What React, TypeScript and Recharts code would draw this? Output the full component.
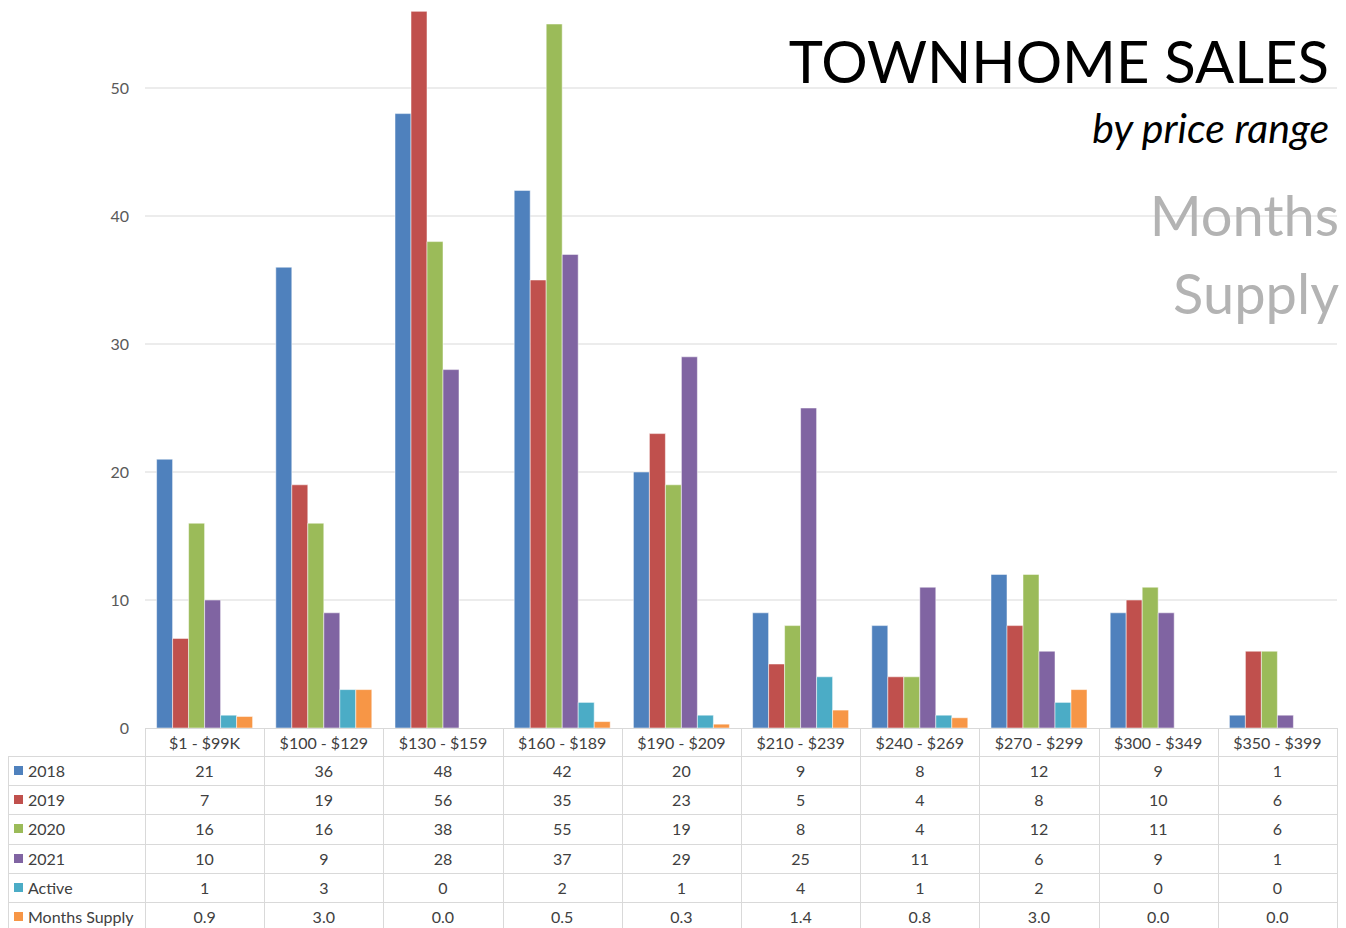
import { BarChart, Bar, XAxis, YAxis, CartesianGrid } from "recharts";

const categories = [
  "$1 - $99K",
  "$100 - $129",
  "$130 - $159",
  "$160 - $189",
  "$190 - $209",
  "$210 - $239",
  "$240 - $269",
  "$270 - $299",
  "$300 - $349",
  "$350 - $399",
];

const sales2018 = [21, 36, 48, 42, 20, 9, 8, 12, 9, 1];
const sales2019 = [7, 19, 56, 35, 23, 5, 4, 8, 10, 6];
const sales2020 = [16, 16, 38, 55, 19, 8, 4, 12, 11, 6];
const sales2021 = [10, 9, 28, 37, 29, 25, 11, 6, 9, 1];
const active = [1, 3, 0, 2, 1, 4, 1, 2, 0, 0];
const monthsSupply = [0.9, 3.0, 0.0, 0.5, 0.3, 1.4, 0.8, 3.0, 0.0, 0.0];

const yTicks = [0, 10, 20, 30, 40, 50];
const gridValues = [10, 20, 30, 40, 50];

const series = [
  { key: "y2018", name: "2018", values: sales2018, color: "#4F81BD", fmt: (v: number) => String(v) },
  { key: "y2019", name: "2019", values: sales2019, color: "#C0504D", fmt: (v: number) => String(v) },
  { key: "y2020", name: "2020", values: sales2020, color: "#9BBB59", fmt: (v: number) => String(v) },
  { key: "y2021", name: "2021", values: sales2021, color: "#8064A2", fmt: (v: number) => String(v) },
  { key: "active", name: "Active", values: active, color: "#4BACC6", fmt: (v: number) => String(v) },
  { key: "supply", name: "Months Supply", values: monthsSupply, color: "#F79646", fmt: (v: number) => v.toFixed(1) },
];

const data = categories.map((name, i) => {
  const row: Record<string, string | number> = { name };
  series.forEach((s) => (row[s.key] = s.values[i]));
  return row;
});

const FONT = "Lato, 'Open Sans', sans-serif";
const PLOT_LEFT = 145;
const PLOT_RIGHT = 1337;
const COL_W = (PLOT_RIGHT - PLOT_LEFT) / categories.length;
const TABLE_TOP = 728;
const HEAD_H = 28;
const ROW_H = 29.2;
const LINE = "#d9d9d9";

const YTick = (props: any) => {
  const { y, payload } = props;
  return (
    <text x={129} y={y} dy={6} textAnchor="end" fontSize={16} fill="#595959" fontFamily={FONT}>
      {payload.value}
    </text>
  );
};

const XTick = (props: any) => {
  const { x, y, payload } = props;
  return (
    <text x={x} y={y} dy={13} textAnchor="middle" fontSize={16} fill="#404040" fontFamily={FONT}>
      {payload.value}
    </text>
  );
};

function DataTable() {
  const lines = [];
  lines.push(
    <div key="ht" style={{ position: "absolute", left: PLOT_LEFT, top: TABLE_TOP, width: PLOT_RIGHT - PLOT_LEFT + 1, height: 1, background: LINE }} />
  );
  for (let r = 0; r < series.length; r++) {
    const top = TABLE_TOP + HEAD_H + r * ROW_H;
    lines.push(
      <div key={"h" + r} style={{ position: "absolute", left: 8, top, width: PLOT_RIGHT - 8 + 1, height: 1, background: LINE }} />
    );
  }
  lines.push(
    <div key="vl" style={{ position: "absolute", left: 8, top: TABLE_TOP + HEAD_H, width: 1, height: 928 - TABLE_TOP - HEAD_H, background: LINE }} />
  );
  for (let c = 0; c <= categories.length; c++) {
    lines.push(
      <div key={"v" + c} style={{ position: "absolute", left: PLOT_LEFT + c * COL_W, top: TABLE_TOP, width: 1, height: 928 - TABLE_TOP, background: LINE }} />
    );
  }
  const cells = [];
  series.forEach((s, r) => {
    const top = TABLE_TOP + HEAD_H + r * ROW_H;
    cells.push(
      <div key={"l" + r} style={{ position: "absolute", left: 14, top, height: ROW_H, display: "flex", alignItems: "center", fontSize: 16, color: "#404040" }}>
        <span style={{ display: "inline-block", width: 9, height: 9, background: s.color, marginRight: 5 }} />
        {s.name}
      </div>
    );
    s.values.forEach((v, c) => {
      cells.push(
        <div key={"c" + r + "-" + c} style={{ position: "absolute", left: PLOT_LEFT + c * COL_W, top, width: COL_W, height: ROW_H, display: "flex", alignItems: "center", justifyContent: "center", fontSize: 16, color: "#404040" }}>
          {s.fmt(v)}
        </div>
      );
    });
  });
  return (
    <div style={{ position: "absolute", left: 0, top: 0, width: 1346, height: 928, pointerEvents: "none", fontFamily: FONT }}>
      {lines}
      {cells}
    </div>
  );
}

export default function App() {
  return (
    <div style={{ position: "fixed", left: 0, top: 0, width: 1346, height: 928, background: "#fff", overflow: "hidden", fontFamily: FONT }}>
      <BarChart
        width={1346}
        height={TABLE_TOP + HEAD_H}
        data={data}
        margin={{ top: 11.2, right: 1346 - PLOT_RIGHT, bottom: 0, left: 0 }}
        barGap={0}
        barCategoryGap={11.6}
      >
        <CartesianGrid vertical={false} stroke={LINE} strokeWidth={1} horizontalValues={gridValues} />
        <YAxis
          width={PLOT_LEFT}
          domain={[0, 56]}
          ticks={yTicks}
          axisLine={false}
          tickLine={false}
          tick={<YTick />}
          allowDataOverflow
        />
        <XAxis dataKey="name" height={HEAD_H} axisLine={false} tickLine={false} tick={<XTick />} interval={0} />
        {series.map((s) => (
          <Bar key={s.key} dataKey={s.key} name={s.name} fill={s.color} stroke="#ffffff" strokeOpacity={0.5} strokeWidth={1} isAnimationActive={false} />
        ))}
      </BarChart>
      <DataTable />
      <div style={{ position: "absolute", right: 1346 - 1329, top: 32, fontSize: 58, color: "#000", lineHeight: 1, fontFamily: FONT }}>
        TOWNHOME SALES
      </div>
      <div style={{ position: "absolute", right: 1346 - 1329, top: 107, fontSize: 41, fontStyle: "italic", color: "#000", lineHeight: 1, fontFamily: FONT }}>
        by price range
      </div>
      <div style={{ position: "absolute", right: 1346 - 1339, top: 187, fontSize: 56, color: "#b3b3b3", lineHeight: 1, fontFamily: FONT }}>
        Months
      </div>
      <div style={{ position: "absolute", right: 1346 - 1339, top: 265, fontSize: 56, color: "#b3b3b3", lineHeight: 1, fontFamily: FONT }}>
        Supply
      </div>
    </div>
  );
}
